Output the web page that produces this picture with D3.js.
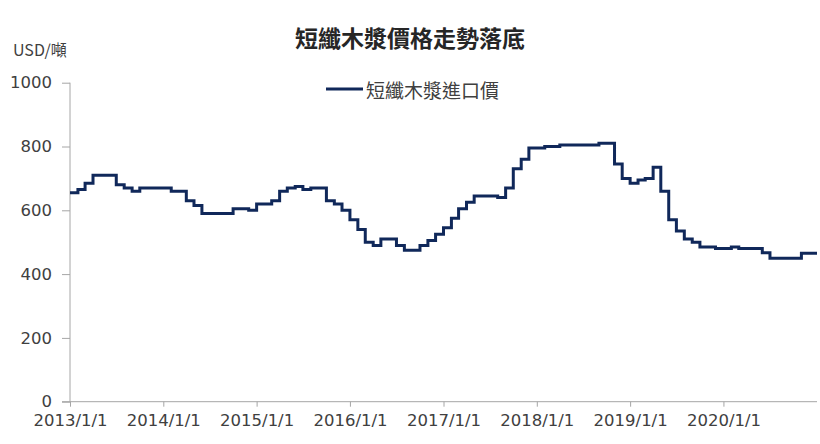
<!DOCTYPE html>
<html><head><meta charset="utf-8">
<script src="https://cdn.jsdelivr.net/npm/d3@7/dist/d3.min.js"></script>
<style>
html,body{margin:0;padding:0;background:#fff;}
svg{display:block;}
</style></head>
<body>
<svg id="chart" width="820" height="444"></svg>
<script>
// ---- data ----
const title = "短纖木漿價格走勢落底";
const unitLabel = "USD/噸";
const seriesName = "短纖木漿進口價";
const startMonth = "2013-01";   // first monthly observation
const prices = [
  655,665,685,710,710,710,680,670,660,670,670,670,   // 2013
  670,660,660,630,615,590,590,590,590,605,605,600,   // 2014
  620,620,630,660,670,675,665,670,670,630,620,600,   // 2015
  570,540,500,490,510,510,490,475,475,490,505,525,   // 2016
  545,575,605,625,645,645,645,640,670,730,760,795,   // 2017
  795,800,800,805,805,805,805,805,810,810,745,700,   // 2018
  685,695,700,735,660,570,535,510,500,485,485,480,   // 2019
  480,485,480,480,480,467,450,450,450,450,465,465    // 2020
];
const yTicks = [0,200,400,600,800,1000];
const xTickLabels = ["2013/1/1","2014/1/1","2015/1/1","2016/1/1","2017/1/1","2018/1/1","2019/1/1","2020/1/1"];

// ---- build ----
const parseM = d3.timeParse("%Y-%m");
const parseT = d3.timeParse("%Y/%-m/%-d");
const t0 = parseM(startMonth);
const data = prices.map((v,i)=>({date:d3.timeMonth.offset(t0,i), value:v}));
const endDate = d3.timeMonth.offset(t0, prices.length);
const stepData = data.concat([{date:endDate, value:prices[prices.length-1]}]);

const svg = d3.select("#chart");
const font = "'Noto Sans CJK TC','Noto Sans',sans-serif";
const numFont = "'DejaVu Sans',sans-serif";
const axisColor = "#a6a6a6";
const textColor = "#404040";
const lineColor = "#10285a";

const x = d3.scaleTime().domain([t0, endDate]).range([70, 817]);
const y = d3.scaleLinear().domain([0,1000]).range([401.7, 82.7]);

// y axis
const yAxis = svg.append("g").attr("transform","translate(70,0)")
  .call(d3.axisLeft(y).tickValues(yTicks).tickSize(8).tickPadding(10).tickFormat(d3.format("d")));
yAxis.select(".domain").attr("stroke",axisColor).attr("d",`M0,${y(1000)}V${y(0)}`);
yAxis.selectAll(".tick line").attr("stroke",axisColor);
yAxis.selectAll(".tick text").attr("fill",textColor).style("font-family",numFont).style("font-size","16.5px");

// x axis
const xAxis = svg.append("g").attr("transform",`translate(0,${y(0)})`)
  .call(d3.axisBottom(x).tickValues(xTickLabels.map(parseT)).tickSize(5).tickPadding(8)
    .tickFormat(d3.timeFormat("%Y/%-m/%-d")));
xAxis.select(".domain").attr("stroke",axisColor).attr("d",`M62,0H${x.range()[1]}`);
xAxis.selectAll(".tick line").attr("stroke",axisColor);
xAxis.selectAll(".tick text").attr("fill",textColor).style("font-family",numFont).style("font-size","16.5px");

// line
const line = d3.line().x(d=>x(d.date)).y(d=>y(d.value)).curve(d3.curveStepAfter);
svg.append("path").datum(stepData)
  .attr("fill","none").attr("stroke",lineColor).attr("stroke-width",3)
  .attr("stroke-linejoin","miter").attr("d",line);

// title
svg.append("text").attr("x",410).attr("y",37).attr("text-anchor","middle")
  .attr("dominant-baseline","central")
  .style("font-family",font).style("font-size","23px").style("font-weight","bold")
  .attr("fill","#262626").text(title);

// unit label
svg.append("text").attr("x",13).attr("y",49).attr("dominant-baseline","central")
  .style("font-family",font).style("font-size","16px").attr("fill",textColor).text(unitLabel);

// legend
const lg = svg.append("g");
lg.append("line").attr("x1",326).attr("x2",363).attr("y1",89).attr("y2",89)
  .attr("stroke",lineColor).attr("stroke-width",3);
lg.append("text").attr("x",366).attr("y",89).attr("dominant-baseline","central")
  .style("font-family",font).style("font-size","19px").attr("fill",textColor).text(seriesName);
</script>
</body></html>
